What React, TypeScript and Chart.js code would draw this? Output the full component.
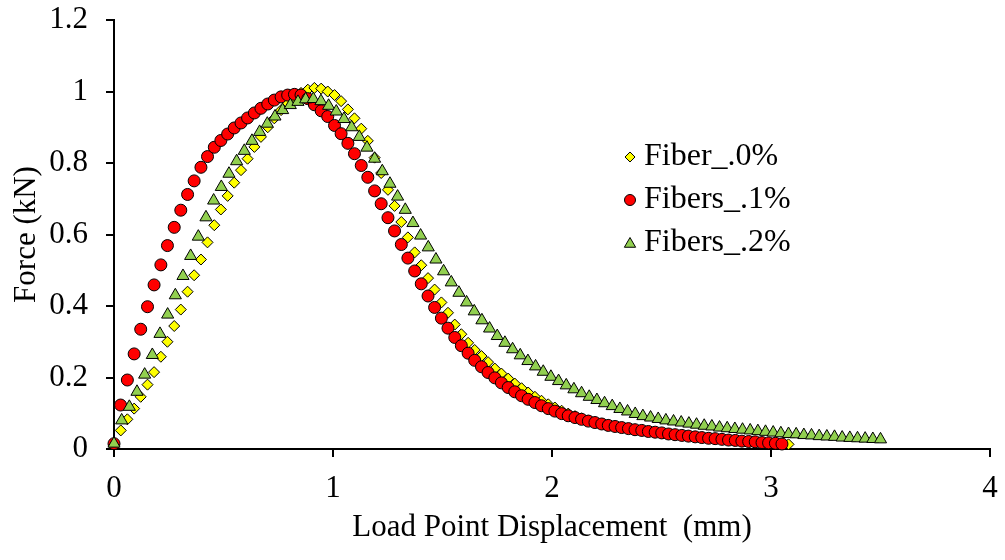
import React, { useEffect, useRef } from 'react';
import { Chart, registerables } from 'chart.js';

Chart.register(...registerables);

const FONT = '"Liberation Serif", "Times New Roman", serif';

const seriesLabels = ['Fiber_.0%', 'Fibers_.1%', 'Fibers_.2%'];

const fiber0X = [
  0, 0.031, 0.061, 0.092, 0.122, 0.153, 0.183, 0.214, 0.244, 0.275,
  0.305, 0.336, 0.366, 0.397, 0.427, 0.458, 0.488, 0.519, 0.549, 0.58,
  0.61, 0.641, 0.671, 0.702, 0.732, 0.763, 0.793, 0.824, 0.854, 0.885,
  0.915, 0.946, 0.976, 1.007, 1.037, 1.068, 1.098, 1.129, 1.159, 1.19,
  1.22, 1.251, 1.281, 1.312, 1.342, 1.373, 1.403, 1.434, 1.464, 1.495,
  1.525, 1.556, 1.586, 1.617, 1.647, 1.678, 1.708, 1.739, 1.769, 1.8,
  1.83, 1.861, 1.891, 1.922, 1.952, 1.983, 2.013, 2.044, 2.074, 2.105,
  2.135, 2.166, 2.196, 2.227, 2.257, 2.288, 2.318, 2.349, 2.379, 2.41,
  2.44, 2.471, 2.501, 2.532, 2.562, 2.593, 2.623, 2.654, 2.684, 2.715,
  2.745, 2.776, 2.806, 2.837, 2.867, 2.898, 2.928, 2.959, 2.989, 3.02,
  3.05, 3.08,
];
const fiber0Y = [
  0.012, 0.052, 0.083, 0.113, 0.146, 0.18, 0.215, 0.258, 0.3, 0.344,
  0.39, 0.44, 0.486, 0.53, 0.578, 0.626, 0.67, 0.708, 0.745, 0.78,
  0.812, 0.845, 0.873, 0.9, 0.925, 0.948, 0.967, 0.983, 0.996, 1.005,
  1.01, 1.008, 1.0, 0.99, 0.973, 0.95, 0.925, 0.896, 0.862, 0.815,
  0.772, 0.725, 0.68, 0.635, 0.592, 0.55, 0.514, 0.478, 0.446, 0.41,
  0.381, 0.348, 0.321, 0.297, 0.277, 0.26, 0.243, 0.225, 0.211, 0.197,
  0.183, 0.17, 0.158, 0.146, 0.135, 0.125, 0.116, 0.107, 0.099, 0.092,
  0.086, 0.08, 0.075, 0.071, 0.067, 0.063, 0.06, 0.057, 0.054, 0.051,
  0.049, 0.046, 0.044, 0.042, 0.04, 0.038, 0.036, 0.034, 0.032, 0.03,
  0.028, 0.027, 0.025, 0.024, 0.022, 0.021, 0.019, 0.018, 0.017, 0.015,
  0.014, 0.013,
];

const fibers1X = [
  0, 0.03, 0.061, 0.092, 0.122, 0.153, 0.183, 0.214, 0.244, 0.275,
  0.305, 0.336, 0.366, 0.397, 0.427, 0.458, 0.488, 0.519, 0.549, 0.58,
  0.61, 0.641, 0.671, 0.702, 0.732, 0.763, 0.793, 0.824, 0.854, 0.885,
  0.915, 0.946, 0.976, 1.007, 1.037, 1.068, 1.098, 1.129, 1.159, 1.19,
  1.22, 1.251, 1.281, 1.312, 1.342, 1.373, 1.403, 1.434, 1.464, 1.495,
  1.525, 1.556, 1.586, 1.617, 1.647, 1.678, 1.708, 1.739, 1.769, 1.8,
  1.83, 1.861, 1.891, 1.922, 1.952, 1.983, 2.013, 2.044, 2.074, 2.105,
  2.135, 2.166, 2.196, 2.227, 2.257, 2.288, 2.318, 2.349, 2.379, 2.41,
  2.44, 2.471, 2.501, 2.532, 2.562, 2.593, 2.623, 2.654, 2.684, 2.715,
  2.745, 2.776, 2.806, 2.837, 2.867, 2.898, 2.928, 2.959, 2.989, 3.02,
  3.05,
];
const fibers1Y = [
  0.015, 0.123, 0.193, 0.266, 0.335, 0.398, 0.459, 0.515, 0.569, 0.62,
  0.668, 0.712, 0.75, 0.788, 0.818, 0.844, 0.863, 0.881, 0.898, 0.912,
  0.926, 0.94, 0.953, 0.965, 0.976, 0.985, 0.99, 0.992, 0.99, 0.98,
  0.963, 0.946, 0.93, 0.905, 0.882, 0.855, 0.826, 0.793, 0.76, 0.722,
  0.686, 0.647, 0.61, 0.572, 0.534, 0.498, 0.462, 0.428, 0.396, 0.366,
  0.338, 0.312, 0.289, 0.268, 0.248, 0.23, 0.214, 0.199, 0.185, 0.172,
  0.16, 0.149, 0.139, 0.13, 0.121, 0.113, 0.106, 0.099, 0.093, 0.088,
  0.083, 0.078, 0.074, 0.07, 0.066, 0.063, 0.06, 0.057, 0.054, 0.052,
  0.049, 0.047, 0.045, 0.042, 0.04, 0.038, 0.036, 0.034, 0.032, 0.03,
  0.029, 0.027, 0.025, 0.024, 0.022, 0.021, 0.02, 0.018, 0.017, 0.016,
  0.014,
];

const fibers2X = [
  0, 0.035, 0.07, 0.105, 0.14, 0.175, 0.21, 0.245, 0.28, 0.315,
  0.35, 0.385, 0.42, 0.455, 0.49, 0.525, 0.56, 0.595, 0.63, 0.665,
  0.7, 0.735, 0.77, 0.805, 0.84, 0.875, 0.91, 0.945, 0.98, 1.015,
  1.05, 1.085, 1.12, 1.155, 1.19, 1.225, 1.26, 1.295, 1.33, 1.365,
  1.4, 1.435, 1.47, 1.505, 1.54, 1.575, 1.61, 1.645, 1.68, 1.715,
  1.75, 1.785, 1.82, 1.855, 1.89, 1.925, 1.96, 1.995, 2.03, 2.065,
  2.1, 2.135, 2.17, 2.205, 2.24, 2.275, 2.31, 2.345, 2.38, 2.415,
  2.45, 2.485, 2.52, 2.555, 2.59, 2.625, 2.66, 2.695, 2.73, 2.765,
  2.8, 2.835, 2.87, 2.905, 2.94, 2.975, 3.01, 3.045, 3.08, 3.115,
  3.15, 3.185, 3.22, 3.255, 3.29, 3.325, 3.36, 3.395, 3.43, 3.465,
  3.5,
];
const fibers2Y = [
  0.015, 0.08, 0.118, 0.16, 0.208, 0.263, 0.322, 0.376, 0.43, 0.484,
  0.54, 0.594, 0.648, 0.695, 0.733, 0.77, 0.805, 0.834, 0.862, 0.887,
  0.91, 0.93, 0.948, 0.962, 0.971, 0.978, 0.979, 0.973, 0.96, 0.944,
  0.923, 0.9, 0.873, 0.843, 0.812, 0.777, 0.742, 0.706, 0.669, 0.632,
  0.597, 0.564, 0.53, 0.497, 0.466, 0.437, 0.41, 0.385, 0.36, 0.337,
  0.316, 0.297, 0.279, 0.262, 0.246, 0.231, 0.216, 0.202, 0.19, 0.178,
  0.167, 0.156, 0.146, 0.137, 0.128, 0.12, 0.112, 0.105, 0.098, 0.092,
  0.088, 0.084, 0.08, 0.077, 0.074, 0.071, 0.068, 0.065, 0.063, 0.06,
  0.058, 0.056, 0.054, 0.052, 0.05, 0.048, 0.046, 0.044, 0.042, 0.041,
  0.039, 0.038, 0.036, 0.035, 0.034, 0.032, 0.031, 0.03, 0.029, 0.028,
  0.027,
];

const colors = ['#FFFF00', '#FF0000', '#92D050'];
const styles = ['rectRot', 'circle', 'triangle'];
const radii = [5.5, 6, 7];

function toPoints(xs: number[], ys: number[]) {
  return xs.map((x, i) => ({ x, y: ys[i] }));
}

function drawMarker(c: CanvasRenderingContext2D, style: string, x: number, y: number, r: number) {
  c.beginPath();
  if (style === 'circle') {
    c.arc(x, y, r, 0, Math.PI * 2);
  } else if (style === 'rectRot') {
    c.moveTo(x - r, y);
    c.lineTo(x, y - r);
    c.lineTo(x + r, y);
    c.lineTo(x, y + r);
    c.closePath();
  } else {
    const w = r * Math.sin((2 * Math.PI) / 3);
    c.moveTo(x, y - r);
    c.lineTo(x + w, y + r / 2);
    c.lineTo(x - w, y + r / 2);
    c.closePath();
  }
  c.fill();
  c.stroke();
}

export default function App() {
  const ref = useRef<HTMLCanvasElement>(null);

  useEffect(() => {
    const canvas = ref.current;
    if (!canvas) return;

    const legendPlugin = {
      id: 'inlineLegend',
      afterDraw(chart: any) {
        const c: CanvasRenderingContext2D = chart.ctx;
        c.save();
        const rowsY = [157, 200, 243];
        seriesLabels.forEach((label, i) => {
          c.fillStyle = colors[i];
          c.strokeStyle = '#000';
          c.lineWidth = 1;
          drawMarker(c, styles[i], 630, rowsY[i] + (styles[i] === 'triangle' ? 1 : 0), radii[i] - 0.5);
          c.fillStyle = '#000';
          c.font = `32px ${FONT}`;
          c.textAlign = 'left';
          c.textBaseline = 'middle';
          c.fillText(label, 644, rowsY[i]);
        });
        c.restore();
      },
    };

    const axisFont = { family: FONT, size: 31 };

    const chart = new Chart(canvas, {
      type: 'scatter',
      data: {
        datasets: [
          { data: toPoints(fiber0X, fiber0Y), order: 3 },
          { data: toPoints(fibers1X, fibers1Y), order: 2 },
          { data: toPoints(fibers2X, fibers2Y), order: 1 },
        ].map((d, i) => ({
          ...d,
          label: seriesLabels[i],
          showLine: false,
          pointStyle: styles[i] as any,
          pointRadius: radii[i],
          pointHoverRadius: radii[i],
          pointBackgroundColor: colors[i],
          pointBorderColor: '#000',
          pointBorderWidth: 1,
          clip: false as any,
        })),
      },
      options: {
        responsive: false,
        animation: false,
        events: [],
        devicePixelRatio: 1,
        layout: { padding: { left: 0, right: 15, top: 20, bottom: 0 } },
        plugins: {
          legend: { display: false },
          tooltip: { enabled: false },
        },
        scales: {
          x: {
            type: 'linear',
            min: 0,
            max: 4,
            ticks: {
              stepSize: 1,
              color: '#000',
              font: axisFont,
              padding: 13,
              maxRotation: 0,
              minRotation: 0,
              autoSkip: false,
            },
            grid: {
              display: true,
              drawOnChartArea: false,
              drawTicks: true,
              tickLength: 8,
              color: '#000',
              lineWidth: 2,
            },
            border: { display: true, color: '#000', width: 2 },
            title: {
              display: true,
              text: 'Load Point Displacement  (mm)',
              color: '#000',
              font: axisFont,
              padding: { top: 0, bottom: 14 },
            },
            afterFit: (s: any) => {
              s.height = 111;
              s.paddingLeft = 0;
              s.paddingRight = 0;
            },
          },
          y: {
            type: 'linear',
            min: 0,
            max: 1.2,
            ticks: {
              stepSize: 0.2,
              color: '#000',
              font: axisFont,
              padding: 18,
              callback: (v: any) => Number(v).toFixed(1).replace(/\.0$/, ''),
            },
            grid: {
              display: true,
              drawOnChartArea: false,
              drawTicks: true,
              tickLength: 8,
              color: '#000',
              lineWidth: 2,
            },
            border: { display: true, color: '#000', width: 2 },
            title: {
              display: true,
              text: 'Force (kN)',
              color: '#000',
              font: axisFont,
              padding: { top: 8, bottom: 0 },
            },
            afterFit: (s: any) => {
              s.width = 114;
              s.paddingTop = 0;
              s.paddingBottom = 0;
            },
          },
        },
      },
      plugins: [legendPlugin],
    } as any);

    return () => chart.destroy();
  }, []);

  return (
    <div style={{ position: 'absolute', left: 0, top: 0, width: 1005, height: 560, background: '#fff' }}>
      <canvas ref={ref} width={1005} height={560} style={{ display: 'block' }} />
    </div>
  );
}
